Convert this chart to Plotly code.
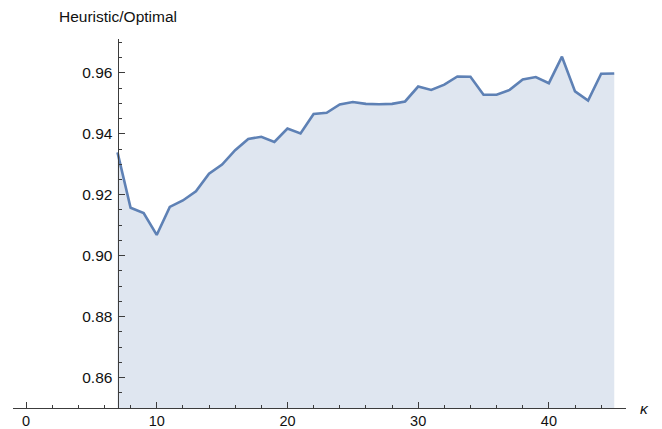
import plotly.graph_objects as go

# kappa values and heuristic/optimal ratio
kappa = list(range(7, 46))
ratio = [
    0.9339, 0.9157, 0.9140, 0.9068, 0.9160, 0.9181, 0.9211, 0.9269, 0.9299, 0.9346,
    0.9383, 0.9390, 0.9373, 0.9417, 0.9401, 0.9465, 0.9469, 0.9496, 0.9504, 0.9498,
    0.9497, 0.9498, 0.9506, 0.9555, 0.9544, 0.9561, 0.9588, 0.9587, 0.9528, 0.9528,
    0.9544, 0.9578, 0.9586, 0.9566, 0.9653, 0.9539, 0.9509, 0.9597, 0.9598,
]

x_ticks = [0, 10, 20, 30, 40]
y_ticks = [0.86, 0.88, 0.90, 0.92, 0.94, 0.96]

line_color = "#5E81B5"
fill_color = "rgba(94,129,181,0.2)"
axis_color = "#3c3c3c"
font = dict(family="Liberation Sans, Arial, sans-serif", size=15.5, color="#111111")
xfont = dict(family="Liberation Sans, Arial, sans-serif", size=14.5, color="#111111")

x_range = [-0.995, 45.9]
y_range = [0.85, 0.9711]

fig = go.Figure()
fig.add_trace(go.Scatter(
    x=kappa, y=ratio, mode="lines",
    line=dict(color=line_color, width=2.6),
    fill="tozeroy", fillcolor=fill_color,
    hoverinfo="skip", showlegend=False,
))

y_axis_pos = (7 - x_range[0]) / (x_range[1] - x_range[0])

fig.update_layout(
    width=662, height=429,
    margin=dict(l=13, r=36, t=39, b=21),
    plot_bgcolor="white", paper_bgcolor="white",
    font=font,
    xaxis=dict(
        range=x_range, showgrid=False, zeroline=False, automargin=False,
        showline=True, linecolor=axis_color, linewidth=1,
        tickvals=x_ticks, ticktext=[str(v) for v in x_ticks],
        ticks="inside", ticklen=6, tickcolor=axis_color, tickwidth=1,
        minor=dict(ticks="inside", ticklen=3.5, dtick=2, tick0=0,
                   tickcolor=axis_color, tickwidth=1, showgrid=False),
        tickfont=xfont, ticklabelstandoff=0,
    ),
    yaxis=dict(
        range=y_range, showgrid=False, zeroline=False, automargin=False,
        anchor="free", position=y_axis_pos,
        showline=True, linecolor=axis_color, linewidth=1,
        tickvals=y_ticks, ticktext=[f"{v:.2f}" for v in y_ticks],
        ticks="inside", ticklen=6, tickcolor=axis_color, tickwidth=1,
        minor=dict(ticks="inside", ticklen=3.5, dtick=0.005, tick0=0.85,
                   tickcolor=axis_color, tickwidth=1, showgrid=False),
        tickfont=font, ticklabelstandoff=2,
    ),
    annotations=[
        dict(text="Heuristic/Optimal", xref="paper", yref="paper",
             x=y_axis_pos, y=1, xanchor="center", yanchor="bottom",
             yshift=12, showarrow=False, font=font),
        dict(text="<i>κ</i>", xref="paper", yref="y",
             x=1, y=0.85, xanchor="left", yanchor="middle",
             xshift=12, showarrow=False, font=font),
    ],
)

fig.write_html("out.html")
